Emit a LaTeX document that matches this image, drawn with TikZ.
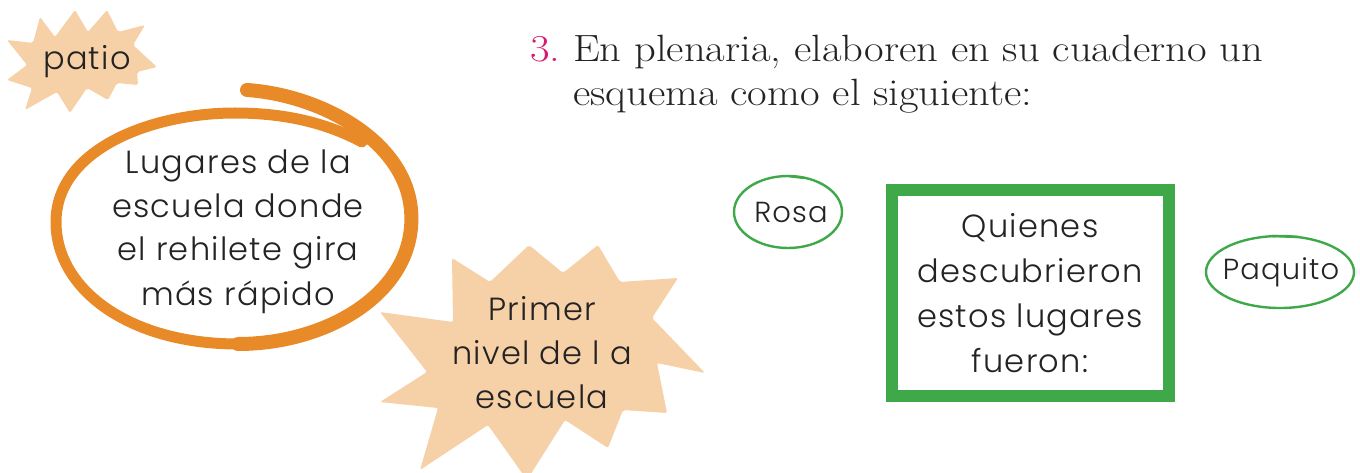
\documentclass[tikz,border=0pt]{standalone}
\usepackage{fontspec}
\usepackage{tikz}
\usetikzlibrary{positioning,shapes.geometric,calc}
\newfontfamily\hand{Poppins Light}[LetterSpace=4]
\newfontfamily\instrfont{Latin Modern Roman}[FakeStretch=1.12]
\definecolor{peachc}{RGB}{246,208,166}
\definecolor{orangec}{RGB}{232,138,40}
\definecolor{greenc}{RGB}{63,169,74}
\definecolor{numc}{RGB}{214,26,110}
\definecolor{inkc}{RGB}{35,35,35}
\tikzset{
  burst/.style    = {fill=peachc, draw=none, rounded corners=2pt},
  handtxt/.style  = {font=\hand\fontsize{32}{44}\selectfont, text=inkc, align=center, inner sep=0pt},
  nametxt/.style  = {font=\hand\fontsize{29}{40}\selectfont, text=inkc, inner sep=0pt},
  loopline/.style = {draw=orangec, line cap=round, line join=round},
  tagline/.style  = {draw=greenc, line width=2.4pt, line cap=round},
  whobox/.style   = {draw=greenc, line width=12pt, align=center, inner sep=0pt,
                     font=\hand\fontsize{32}{45}\selectfont, text=inkc},
  instr/.style    = {font=\instrfont\fontsize{38}{44}\selectfont, text=inkc, inner sep=0pt, anchor=base west},
}
\begin{document}
\begin{tikzpicture}[x=1pt,y=-1pt]
\useasboundingbox (0,0) rectangle (1360,473);

% --- bursts -------------------------------------------------------------
\fill[burst] (40,17) -- (55,37) -- (75,10) -- (88,32) -- (107,10) -- (118,32) -- (145,25)
  -- (133,45) -- (157,67) -- (137,72) -- (138,85) -- (117,83) -- (108,100) -- (87,88)
  -- (70,113) -- (57,92) -- (25,110) -- (32,88) -- (7,80) -- (27,65) -- (7,40) -- (33,43) -- cycle;
\fill[burst] (529,245) -- (563,273) -- (598,245) -- (620,282) -- (678,278) -- (652,318)
  -- (705,373) -- (657,363) -- (667,413) -- (623,410) -- (608,448) -- (565,420)
  -- (527,480) -- (488,425) -- (420,470) -- (438,408) -- (380,402) -- (427,372)
  -- (380,312) -- (453,322) -- (452,258) -- (490,282) -- cycle;
\node[handtxt, anchor=base] (patio) at (87,70) {patio};
\node[handtxt, anchor=base] (nivel) at (542,408) {Primer\\nivel de l a\\escuela};

% --- orange loop ----------------------------------------------------------
\draw[loopline, line width=14pt] (247,90) .. controls (320,95) and (405,140) .. (411,210)
  .. controls (418,290) and (330,344) .. (238,344);
\draw[loopline, line width=11pt] (238,344) .. controls (130,344) and (56,290) .. (56,222)
  .. controls (56,150) and (150,113) .. (235,113) .. controls (290,113) and (330,125) .. (362,142);
\node[handtxt, anchor=base] (lugares) at (238,305)
  {Lugares de la\\escuela donde\\el rehilete gira\\más rápido};

% --- instruction ----------------------------------------------------------
\node[instr, text=numc] (num) at (530,62) {3.};
\node[instr] (ins1) at (573,62) {En plenaria, elaboren en su cuaderno un};
\node[instr] (ins2) at (573,106) {esquema como el siguiente:};

% --- names and box --------------------------------------------------------
\node[whobox, minimum width=277pt, minimum height=205pt] (who) at (1030,293)
  {Quienes\\descubrieron\\estos lugares\\fueron:};
\node[nametxt] (rosa) at (791,212) {Rosa};
\node[nametxt] (paquito) at (1281,272) {Paquito};
\draw[tagline] (rosa.center) ++(-3,0) ellipse [x radius=54, y radius=36];
\draw[tagline] (rosa.center) ++(-3,-36) -- ++(16,2);
\draw[tagline] (paquito.center) ++(-1,0) ellipse [x radius=74, y radius=36];
\draw[tagline] (paquito.center) ++(-10,-36) -- ++(28,1);

\end{tikzpicture}
\end{document}
